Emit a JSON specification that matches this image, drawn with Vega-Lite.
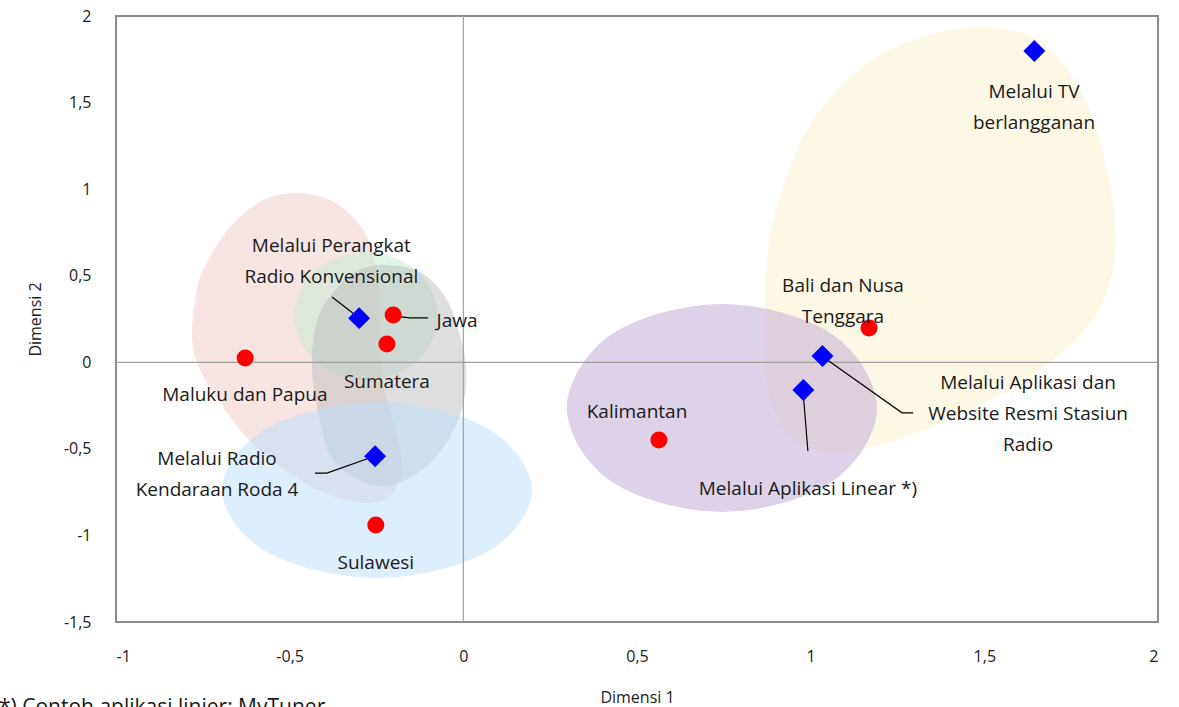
{
  "$schema": "https://vega.github.io/schema/vega-lite/v6.json",
  "width": 1042,
  "height": 606,
  "autosize": {"type": "none"},
  "padding": {"left": 116, "top": 16, "right": 21, "bottom": 85},
  "title": {"text": "*) Contoh aplikasi linier: MyTuner", "orient": "bottom", "anchor": "start", "frame": "group", "dx": -117, "offset": -8, "fontSize": 21, "fontWeight": "normal", "font": "Open Sans", "color": "#1a1a1a", "baseline": "top"},
  "config": {
    "font": "Open Sans",
    "view": {"stroke": "#8c8c8c", "strokeWidth": 2},
    "locale": {"number": {"decimal": ",", "thousands": ".", "grouping": [3], "currency": ["", ""], "minus": "-"}},
    "axis": {"grid": false, "domain": false, "ticks": false, "labelFont": "Open Sans", "labelFontSize": 16, "labelColor": "#222222", "titleFont": "Open Sans", "titleFontSize": 16, "titleFontWeight": "normal", "titleColor": "#222222"}
  },
  "datasets": {
    "blobs": [
      {"blob": "pink", "o": 1, "x": -0.476, "y": 0.978},
      {"blob": "pink", "o": 2, "x": -0.384, "y": 0.938},
      {"blob": "pink", "o": 3, "x": -0.318, "y": 0.839},
      {"blob": "pink", "o": 4, "x": -0.269, "y": 0.689},
      {"blob": "pink", "o": 5, "x": -0.246, "y": 0.475},
      {"blob": "pink", "o": 6, "x": -0.240, "y": 0.187},
      {"blob": "pink", "o": 7, "x": -0.232, "y": -0.102},
      {"blob": "pink", "o": 8, "x": -0.203, "y": -0.333},
      {"blob": "pink", "o": 9, "x": -0.179, "y": -0.547},
      {"blob": "pink", "o": 10, "x": -0.182, "y": -0.680},
      {"blob": "pink", "o": 11, "x": -0.220, "y": -0.784},
      {"blob": "pink", "o": 12, "x": -0.283, "y": -0.813},
      {"blob": "pink", "o": 13, "x": -0.384, "y": -0.766},
      {"blob": "pink", "o": 14, "x": -0.470, "y": -0.680},
      {"blob": "pink", "o": 15, "x": -0.571, "y": -0.534},
      {"blob": "pink", "o": 16, "x": -0.643, "y": -0.390},
      {"blob": "pink", "o": 17, "x": -0.715, "y": -0.189},
      {"blob": "pink", "o": 18, "x": -0.758, "y": -0.044},
      {"blob": "pink", "o": 19, "x": -0.781, "y": 0.129},
      {"blob": "pink", "o": 20, "x": -0.772, "y": 0.360},
      {"blob": "pink", "o": 21, "x": -0.749, "y": 0.533},
      {"blob": "pink", "o": 22, "x": -0.672, "y": 0.781},
      {"blob": "pink", "o": 23, "x": -0.576, "y": 0.937},
      {"blob": "green", "o": 1, "x": -0.280, "y": 0.637},
      {"blob": "green", "o": 2, "x": -0.133, "y": 0.527},
      {"blob": "green", "o": 3, "x": -0.073, "y": 0.267},
      {"blob": "green", "o": 4, "x": -0.133, "y": 0.008},
      {"blob": "green", "o": 5, "x": -0.280, "y": -0.102},
      {"blob": "green", "o": 6, "x": -0.427, "y": 0.008},
      {"blob": "green", "o": 7, "x": -0.487, "y": 0.267},
      {"blob": "green", "o": 8, "x": -0.427, "y": 0.527},
      {"blob": "gray", "o": 1, "x": -0.220, "y": 0.562},
      {"blob": "gray", "o": 2, "x": -0.125, "y": 0.521},
      {"blob": "gray", "o": 3, "x": -0.047, "y": 0.360},
      {"blob": "gray", "o": 4, "x": -0.001, "y": 0.089},
      {"blob": "gray", "o": 5, "x": 0.008, "y": -0.131},
      {"blob": "gray", "o": 6, "x": -0.015, "y": -0.334},
      {"blob": "gray", "o": 7, "x": -0.067, "y": -0.518},
      {"blob": "gray", "o": 8, "x": -0.139, "y": -0.651},
      {"blob": "gray", "o": 9, "x": -0.226, "y": -0.715},
      {"blob": "gray", "o": 10, "x": -0.312, "y": -0.668},
      {"blob": "gray", "o": 11, "x": -0.384, "y": -0.535},
      {"blob": "gray", "o": 12, "x": -0.421, "y": -0.258},
      {"blob": "gray", "o": 13, "x": -0.436, "y": 0.013},
      {"blob": "gray", "o": 14, "x": -0.413, "y": 0.285},
      {"blob": "gray", "o": 15, "x": -0.341, "y": 0.475},
      {"blob": "gray", "o": 16, "x": -0.283, "y": 0.545},
      {"blob": "blue", "o": 1, "x": -0.249, "y": -0.229},
      {"blob": "blue", "o": 2, "x": 0.068, "y": -0.380},
      {"blob": "blue", "o": 3, "x": 0.198, "y": -0.738},
      {"blob": "blue", "o": 4, "x": 0.068, "y": -1.096},
      {"blob": "blue", "o": 5, "x": -0.249, "y": -1.246},
      {"blob": "blue", "o": 6, "x": -0.565, "y": -1.096},
      {"blob": "blue", "o": 7, "x": -0.695, "y": -0.738},
      {"blob": "blue", "o": 8, "x": -0.565, "y": -0.380},
      {"blob": "purple", "o": 1, "x": 0.745, "y": 0.337},
      {"blob": "purple", "o": 2, "x": 1.061, "y": 0.164},
      {"blob": "purple", "o": 3, "x": 1.191, "y": -0.264},
      {"blob": "purple", "o": 4, "x": 1.061, "y": -0.691},
      {"blob": "purple", "o": 5, "x": 0.745, "y": -0.864},
      {"blob": "purple", "o": 6, "x": 0.428, "y": -0.691},
      {"blob": "purple", "o": 7, "x": 0.298, "y": -0.264},
      {"blob": "purple", "o": 8, "x": 0.428, "y": 0.164},
      {"blob": "yellow", "o": 1, "x": 1.526, "y": 1.932},
      {"blob": "yellow", "o": 2, "x": 1.676, "y": 1.834},
      {"blob": "yellow", "o": 3, "x": 1.790, "y": 1.516},
      {"blob": "yellow", "o": 4, "x": 1.856, "y": 1.083},
      {"blob": "yellow", "o": 5, "x": 1.877, "y": 0.707},
      {"blob": "yellow", "o": 6, "x": 1.856, "y": 0.418},
      {"blob": "yellow", "o": 7, "x": 1.790, "y": 0.187},
      {"blob": "yellow", "o": 8, "x": 1.661, "y": -0.044},
      {"blob": "yellow", "o": 9, "x": 1.517, "y": -0.217},
      {"blob": "yellow", "o": 10, "x": 1.329, "y": -0.390},
      {"blob": "yellow", "o": 11, "x": 1.142, "y": -0.506},
      {"blob": "yellow", "o": 12, "x": 1.012, "y": -0.506},
      {"blob": "yellow", "o": 13, "x": 0.926, "y": -0.390},
      {"blob": "yellow", "o": 14, "x": 0.877, "y": -0.160},
      {"blob": "yellow", "o": 15, "x": 0.866, "y": 0.187},
      {"blob": "yellow", "o": 16, "x": 0.877, "y": 0.631},
      {"blob": "yellow", "o": 17, "x": 0.917, "y": 0.995},
      {"blob": "yellow", "o": 18, "x": 0.989, "y": 1.342},
      {"blob": "yellow", "o": 19, "x": 1.104, "y": 1.630},
      {"blob": "yellow", "o": 20, "x": 1.228, "y": 1.804},
      {"blob": "yellow", "o": 21, "x": 1.372, "y": 1.908}
    ],
    "points": [
      {"name": "Maluku dan Papua", "kind": "region", "x": -0.628, "y": 0.025},
      {"name": "Jawa", "kind": "region", "x": -0.202, "y": 0.273},
      {"name": "Sumatera", "kind": "region", "x": -0.220, "y": 0.106},
      {"name": "Sulawesi", "kind": "region", "x": -0.252, "y": -0.940},
      {"name": "Kalimantan", "kind": "region", "x": 0.563, "y": -0.449},
      {"name": "Bali dan Nusa Tenggara", "kind": "region", "x": 1.168, "y": 0.198},
      {"name": "Melalui Perangkat Radio Konvensional", "kind": "media", "x": -0.300, "y": 0.255},
      {"name": "Melalui Radio Kendaraan Roda 4", "kind": "media", "x": -0.254, "y": -0.543},
      {"name": "Melalui TV berlangganan", "kind": "media", "x": 1.644, "y": 1.798},
      {"name": "Melalui Aplikasi dan Website Resmi Stasiun Radio", "kind": "media", "x": 1.034, "y": 0.036},
      {"name": "Melalui Aplikasi Linear *)", "kind": "media", "x": 0.979, "y": -0.160}
    ],
    "leaders": [
      {"id": "perangkat", "o": 1, "x": -0.378, "y": 0.377},
      {"id": "perangkat", "o": 2, "x": -0.300, "y": 0.256},
      {"id": "jawa", "o": 1, "x": -0.197, "y": 0.267},
      {"id": "jawa", "o": 2, "x": -0.154, "y": 0.256},
      {"id": "jawa", "o": 3, "x": -0.102, "y": 0.256},
      {"id": "kendaraan", "o": 1, "x": -0.254, "y": -0.541},
      {"id": "kendaraan", "o": 2, "x": -0.393, "y": -0.640},
      {"id": "kendaraan", "o": 3, "x": -0.427, "y": -0.640},
      {"id": "website", "o": 1, "x": 1.036, "y": 0.031},
      {"id": "website", "o": 2, "x": 1.263, "y": -0.292},
      {"id": "website", "o": 3, "x": 1.295, "y": -0.292},
      {"id": "linear", "o": 1, "x": 0.978, "y": -0.166},
      {"id": "linear", "o": 2, "x": 0.992, "y": -0.512}
    ],
    "labels": [
      {"label": ["Melalui Perangkat", "Radio Konvensional"], "x": -0.380, "y": 0.672},
      {"label": ["Jawa"], "x": -0.018, "y": 0.239},
      {"label": ["Sumatera"], "x": -0.220, "y": -0.113},
      {"label": ["Maluku dan Papua"], "x": -0.629, "y": -0.189},
      {"label": ["Melalui Radio", "Kendaraan Roda 4"], "x": -0.709, "y": -0.559},
      {"label": ["Sulawesi"], "x": -0.252, "y": -1.159},
      {"label": ["Kalimantan"], "x": 0.500, "y": -0.287},
      {"label": ["Bali dan Nusa", "Tenggara"], "x": 1.093, "y": 0.441},
      {"label": ["Melalui TV", "berlangganan"], "x": 1.643, "y": 1.561},
      {"label": ["Melalui Aplikasi dan", "Website Resmi Stasiun", "Radio"], "x": 1.626, "y": -0.119},
      {"label": ["Melalui Aplikasi Linear *)"], "x": 0.992, "y": -0.732}
    ]
  },
  "encoding": {
    "x": {"field": "x", "type": "quantitative", "scale": {"domain": [-1, 2], "nice": false, "zero": false},
      "axis": {"values": [-1, -0.5, 0, 0.5, 1, 1.5, 2], "format": "~g", "labelPadding": 26, "title": "Dimensi 1", "titlePadding": 25}},
    "y": {"field": "y", "type": "quantitative", "scale": {"domain": [-1.5, 2], "nice": false, "zero": false},
      "axis": {"values": [-1.5, -1, -0.5, 0, 0.5, 1, 1.5, 2], "format": "~g", "labelPadding": 25, "title": "Dimensi 2", "titlePadding": 20}}
  },
  "layer": [
    {"data": {"name": "blobs"}, "transform": [{"filter": "datum.blob === 'pink'"}],
      "mark": {"type": "line", "interpolate": "cardinal-closed", "fill": "#edccc5", "fillOpacity": 0.5, "stroke": null},
      "encoding": {"order": {"field": "o", "type": "quantitative"}}},
    {"data": {"name": "blobs"}, "transform": [{"filter": "datum.blob === 'green'"}],
      "mark": {"type": "line", "interpolate": "cardinal-closed", "fill": "#c3ebd1", "fillOpacity": 0.5, "stroke": null},
      "encoding": {"order": {"field": "o", "type": "quantitative"}}},
    {"data": {"name": "blobs"}, "transform": [{"filter": "datum.blob === 'gray'"}],
      "mark": {"type": "line", "interpolate": "cardinal-closed", "fill": "#bdbdbd", "fillOpacity": 0.5, "stroke": null},
      "encoding": {"order": {"field": "o", "type": "quantitative"}}},
    {"data": {"name": "blobs"}, "transform": [{"filter": "datum.blob === 'blue'"}],
      "mark": {"type": "line", "interpolate": "cardinal-closed", "fill": "#bbddf9", "fillOpacity": 0.5, "stroke": null},
      "encoding": {"order": {"field": "o", "type": "quantitative"}}},
    {"data": {"name": "blobs"}, "transform": [{"filter": "datum.blob === 'yellow'"}],
      "mark": {"type": "line", "interpolate": "cardinal-closed", "fill": "#fbf1cd", "fillOpacity": 0.5, "stroke": null},
      "encoding": {"order": {"field": "o", "type": "quantitative"}}},
    {"data": {"name": "blobs"}, "transform": [{"filter": "datum.blob === 'purple'"}],
      "mark": {"type": "line", "interpolate": "cardinal-closed", "fill": "#bda5d1", "fillOpacity": 0.5, "stroke": null},
      "encoding": {"order": {"field": "o", "type": "quantitative"}}},
    {"data": {"values": [{"v": 0}]}, "mark": {"type": "rule", "color": "#a0a0a0", "strokeWidth": 1.2},
      "encoding": {"x": {"field": "v", "type": "quantitative"}, "y": null}},
    {"data": {"values": [{"v": 0}]}, "mark": {"type": "rule", "color": "#a0a0a0", "strokeWidth": 1.2},
      "encoding": {"y": {"field": "v", "type": "quantitative"}, "x": null}},
    {"data": {"name": "leaders"}, "mark": {"type": "line", "color": "#000000", "strokeWidth": 1.2},
      "encoding": {"detail": {"field": "id"}, "order": {"field": "o", "type": "quantitative"}}},
    {"data": {"name": "points"}, "transform": [{"filter": "datum.kind === 'region'"}],
      "mark": {"type": "point", "shape": "circle", "filled": true, "color": "#ff0000", "opacity": 1, "size": 290}},
    {"data": {"name": "points"}, "transform": [{"filter": "datum.kind === 'media'"}],
      "mark": {"type": "point", "shape": "diamond", "filled": true, "color": "#0000ff", "opacity": 1, "size": 480}},
    {"data": {"name": "labels"}, "mark": {"type": "text", "font": "Open Sans", "fontSize": 19, "color": "#1a1a1a", "lineHeight": 31, "align": "center", "baseline": "middle"},
      "encoding": {"text": {"field": "label"}}}
  ]
}
